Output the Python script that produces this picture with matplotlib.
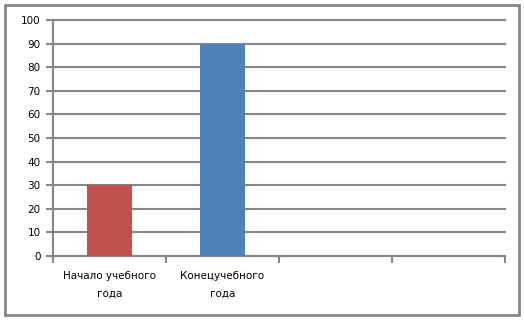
import numpy as np
import matplotlib
matplotlib.use("Agg")
import matplotlib.pyplot as plt
from matplotlib.patches import Rectangle

# data
categories = ["Начало учебного\nгода", "Конецучебного\nгода", "", ""]
values = [30, 90, 0, 0]
colors = ["#C0504D", "#4F81BD", "#4F81BD", "#4F81BD"]
y_ticks = list(range(0, 101, 10))

grey = "#868686"

fig = plt.figure(figsize=(5.24, 3.2), dpi=100)
ax = fig.add_axes([53 / 524, 64 / 320, 452 / 524, 236 / 320])

x = np.arange(len(categories))
ax.bar(x, values, width=0.4, color=colors, zorder=3)

ax.set_xlim(-0.5, len(categories) - 0.5)
ax.set_ylim(0, 100)
ax.set_yticks(y_ticks)
ax.yaxis.grid(True, color=grey, linewidth=1.5, zorder=0)
ax.set_axisbelow(True)
for gl in ax.get_ygridlines():
    gl.set_clip_on(False)

ax.set_xticks(x)
ax.set_xticklabels(categories, fontsize=7.5, linespacing=1.9)
ax.set_xticks(np.arange(len(categories) + 1) - 0.5, minor=True)
ax.tick_params(axis="x", which="major", length=0, pad=11)
ax.tick_params(axis="x", which="minor", length=5, width=1.5, color=grey)
ax.tick_params(axis="y", length=5, width=1.5, color=grey, labelsize=7.5, pad=4)

for side in ["top", "right"]:
    ax.spines[side].set_visible(False)
for side in ["left", "bottom"]:
    ax.spines[side].set_color(grey)
    ax.spines[side].set_linewidth(1.5)

# outer chart border
fig.patches.append(Rectangle((5 / 524, 5 / 320), 514 / 524, 310 / 320,
                             transform=fig.transFigure, fill=False,
                             edgecolor=grey, linewidth=2))

fig.savefig("out.png", dpi=100)
